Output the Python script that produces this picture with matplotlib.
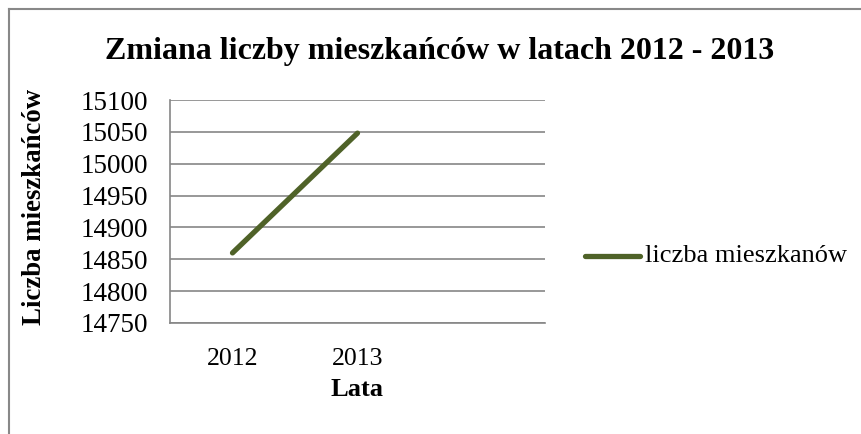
import numpy as np
import matplotlib.pyplot as plt
from matplotlib.lines import Line2D

# dane
categories = ["2012", "2013", ""]
population = [14860, 15048]
series_name = "liczba mieszkanów"
y_ticks = [14750, 14800, 14850, 14900, 14950, 15000, 15050, 15100]

plt.rcParams['font.family'] = ['Liberation Serif', 'DejaVu Serif']

W, H = 862, 434
fig = plt.figure(figsize=(W / 100, H / 100), dpi=100)

# obszar wykresu (w pikselach z referencji)
left, right, top, bottom = 170, 545, 100, 323
ax = fig.add_axes([left / W, 1 - bottom / H, (right - left) / W, (bottom - top) / H])

x = np.arange(len(population))
ax.plot(x, population, color='#4F6228', linewidth=3.8, solid_capstyle='round')

ax.set_xlim(-0.5, len(categories) - 0.5)
ax.set_ylim(y_ticks[0], y_ticks[-1])
ax.set_yticks(y_ticks)
ax.set_xticks(np.arange(len(categories)))
ax.set_xticklabels(categories)
ax.grid(axis='y', color='#868686', linewidth=1.2)
ax.set_axisbelow(True)
ax.tick_params(axis='both', length=0, labelsize=18.5)
ax.tick_params(axis='y', labelsize=19.5, pad=16)
ax.tick_params(axis='x', pad=18)
for side in ['top', 'right']:
    ax.spines[side].set_visible(False)
for side in ['left', 'bottom']:
    ax.spines[side].set_color('#868686')
    ax.spines[side].set_linewidth(1.2)

fig.text(440 / W, 1 - 51 / H, "Zmiana liczby mieszkańców w latach 2012 - 2013",
         ha='center', va='center', fontsize=23, fontweight='bold')
fig.text(35 / W, 1 - 207 / H, "Liczba mieszkańców", rotation=90,
         ha='center', va='center', fontsize=19.3, fontweight='bold')
fig.text(357 / W, 1 - 389 / H, "Lata", ha='center', va='center',
         fontsize=19, fontweight='bold')

# legenda
fig.add_artist(Line2D([585 / W, 640 / W], [1 - 256 / H, 1 - 256 / H],
                      color='#4F6228', linewidth=3.8, solid_capstyle='round'))
fig.text(645 / W, 1 - 256 / H, series_name, ha='left', va='center', fontsize=19)

# ramka
fig.add_artist(Line2D([9 / W, 9 / W], [0, 1 - 9 / H], color='#888888', linewidth=1.5))
fig.add_artist(Line2D([9 / W, 1], [1 - 9 / H, 1 - 9 / H], color='#888888', linewidth=1.5))

fig.savefig('out.png', dpi=100)
